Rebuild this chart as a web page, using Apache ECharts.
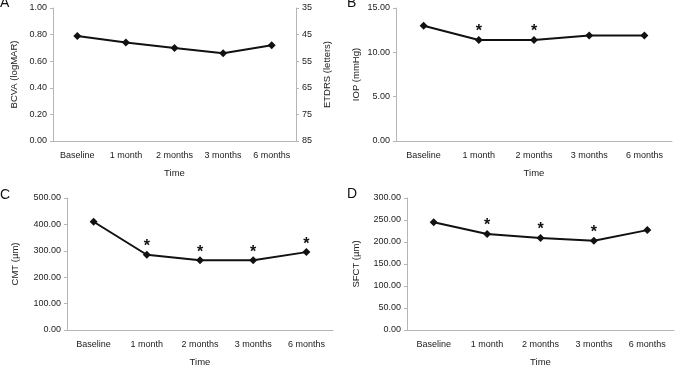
<!DOCTYPE html>
<html>
<head>
<meta charset="utf-8">
<script src="https://cdn.jsdelivr.net/npm/echarts@6/dist/echarts.min.js"></script>
<style>html,body{margin:0;padding:0;background:#fff;}#c{width:679px;height:368px;}</style>
</head>
<body>
<div id="c"></div>
<script>
var categories = ['Baseline', '1 month', '2 months', '3 months', '6 months'];

var bcva = [0.79, 0.74, 0.70, 0.66, 0.72];
var iop = [13.0, 11.4, 11.4, 11.9, 11.9];
var cmt = [410, 285, 264, 264, 295];
var sfct = [245, 218, 209, 203, 227];

var iopSig = [false, true, true, false, false];
var cmtSig = [false, true, true, true, true];
var sfctSig = [false, true, true, true, false];

var bcvaTicks = [0, 0.2, 0.4, 0.6, 0.8, 1.0];
var etdrsTicks = [35, 45, 55, 65, 75, 85];

var FONT = '"Liberation Sans", Arial, sans-serif';
var TXT = '#222';
var AX = '#b5b5b5';

function withSig(vals, sig) {
  return vals.map(function (v, i) {
    if (!sig || !sig[i]) return v;
    return {
      value: v,
      label: { show: true, formatter: '*', position: 'top', distance: -4, fontSize: 16, fontWeight: 'bold', color: '#111', fontFamily: FONT }
    };
  });
}

function xAxis(grid) {
  return {
    type: 'category', gridIndex: grid, data: categories, boundaryGap: true,
    name: 'Time', nameLocation: 'middle', nameGap: 27,
    nameTextStyle: { fontSize: 9.5, color: TXT, fontFamily: FONT },
    axisLine: { lineStyle: { color: AX, width: 1 } },
    axisTick: { show: false },
    axisLabel: { fontSize: 9, color: TXT, fontFamily: FONT, margin: 10, interval: 0 },
    splitLine: { show: false }
  };
}

function yAxis(grid, name, max, interval, gap, fmt) {
  return {
    type: 'value', gridIndex: grid, min: 0, max: max, interval: interval,
    name: name, nameLocation: 'middle', nameGap: gap,
    nameTextStyle: { fontSize: 9.5, color: TXT, fontFamily: FONT },
    axisLine: { show: true, lineStyle: { color: AX, width: 1 } },
    axisTick: { show: true, length: 3, lineStyle: { color: AX } },
    axisLabel: { fontSize: 9, color: TXT, fontFamily: FONT, margin: 6, formatter: fmt },
    splitLine: { show: false }
  };
}

function series(x, y, vals, sig) {
  return {
    type: 'line', xAxisIndex: x, yAxisIndex: y, data: withSig(vals, sig),
    symbol: 'diamond', symbolSize: 8,
    lineStyle: { color: '#111', width: 2 },
    itemStyle: { color: '#111' },
    animation: false, z: 5
  };
}

var f2 = function (v) { return v.toFixed(2); };

var option = {
  backgroundColor: '#fff',
  animation: false,
  grid: [
    { left: 53, right: 383, top: 8, bottom: 227 },
    { left: 396, right: 7, top: 8, bottom: 227 },
    { left: 67, right: 346, top: 198, bottom: 38 },
    { left: 407, right: 5, top: 198, bottom: 38 }
  ],
  graphic: [
    { type: 'text', left: 0, top: -4, style: { text: 'A', font: '14px ' + FONT, fill: '#111' } },
    { type: 'text', left: 347, top: -4, style: { text: 'B', font: '14px ' + FONT, fill: '#111' } },
    { type: 'text', left: 0, top: 188, style: { text: 'C', font: '14px ' + FONT, fill: '#111' } },
    { type: 'text', left: 347, top: 187, style: { text: 'D', font: '14px ' + FONT, fill: '#111' } }
  ],
  xAxis: [xAxis(0), xAxis(1), xAxis(2), xAxis(3)],
  yAxis: [
    yAxis(0, 'BCVA (logMAR)', bcvaTicks[bcvaTicks.length - 1], 0.2, 34, f2),
    {
      type: 'value', gridIndex: 0, position: 'right', inverse: true,
      min: etdrsTicks[0], max: etdrsTicks[etdrsTicks.length - 1], interval: 10,
      name: 'ETDRS (letters)', nameLocation: 'middle', nameGap: 26,
      nameTextStyle: { fontSize: 9.5, color: TXT, fontFamily: FONT },
      axisLine: { show: true, lineStyle: { color: AX, width: 1 } },
      axisTick: { show: true, length: 3, lineStyle: { color: AX } },
      axisLabel: { fontSize: 9, color: TXT, fontFamily: FONT, margin: 6 },
      splitLine: { show: false }
    },
    yAxis(1, 'IOP (mmHg)', 15, 5, 35, f2),
    yAxis(2, 'CMT (µm)', 500, 100, 47, f2),
    yAxis(3, 'SFCT (µm)', 300, 50, 46, f2)
  ],
  series: [
    series(0, 0, bcva, null),
    series(1, 2, iop, iopSig),
    series(2, 3, cmt, cmtSig),
    series(3, 4, sfct, sfctSig)
  ]
};

var chart = echarts.init(document.getElementById('c'), null, { renderer: 'canvas' });
chart.setOption(option);
</script>
</body>
</html>
